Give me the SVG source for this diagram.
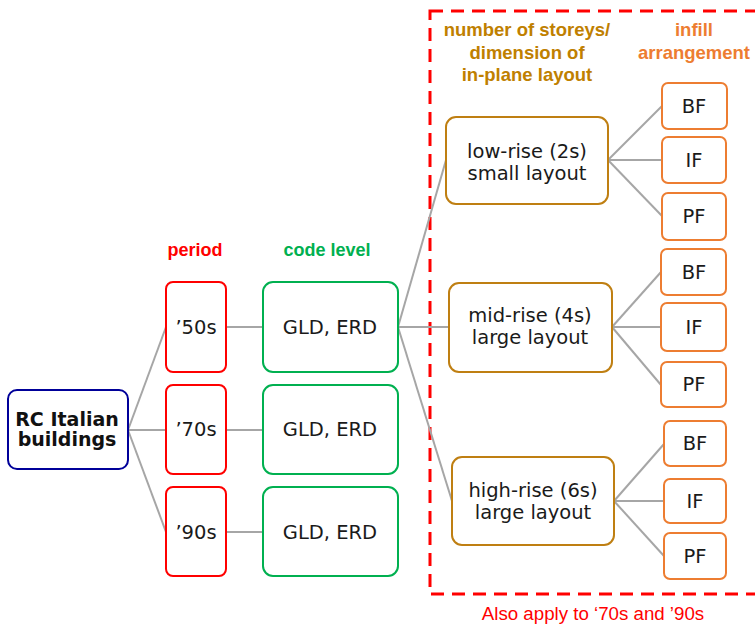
<svg xmlns="http://www.w3.org/2000/svg" width="755" height="624" viewBox="0 0 755 624">
<style>
text{font-family:"DejaVu Sans",Verdana,sans-serif;text-anchor:middle}
.lbl{font-size:19.5px;fill:#1a1a1a}
.hdr{font-family:"Liberation Sans",Arial,sans-serif;font-size:18.5px;font-weight:bold}
.box{fill:#fff;stroke-width:2}
.root{stroke:#000099}
.per{stroke:#ff0000}
.code{stroke:#00b050}
.sto{stroke:#bf7f12}
.inf{stroke:#ed7d31}
#connectors line{stroke:#a6a6a6;stroke-width:2}
</style>
<rect width="755" height="624" fill="#fff"/>
<rect x="430" y="11" width="335" height="583" fill="none" stroke="#ff0000" stroke-width="3" stroke-dasharray="13 8"/>
<g id="connectors">
<line x1="128" y1="430" x2="166" y2="327"/>
<line x1="128" y1="430" x2="166" y2="430"/>
<line x1="128" y1="430" x2="166" y2="532"/>
<line x1="226" y1="327" x2="263" y2="327"/>
<line x1="226" y1="430" x2="263" y2="430"/>
<line x1="226" y1="532" x2="263" y2="532"/>
<line x1="398" y1="327" x2="446" y2="160"/>
<line x1="398" y1="327" x2="449" y2="327"/>
<line x1="398" y1="327" x2="452" y2="501"/>
<line x1="608" y1="160" x2="662" y2="106"/>
<line x1="608" y1="160" x2="662" y2="160"/>
<line x1="608" y1="160" x2="662" y2="216"/>
<line x1="612" y1="327" x2="661" y2="272"/>
<line x1="612" y1="327" x2="661" y2="327"/>
<line x1="612" y1="327" x2="661" y2="385"/>
<line x1="614" y1="501" x2="664" y2="444"/>
<line x1="614" y1="501" x2="664" y2="501"/>
<line x1="614" y1="501" x2="664" y2="556"/>
</g>
<text class="hdr" x="195" y="256" fill="#ff0000" style="font-size:18px">period</text>
<text class="hdr" x="327" y="256" fill="#00b050" style="font-size:18px">code level</text>
<text class="hdr" x="527" y="36" fill="#bf8000">number of storeys/</text>
<text class="hdr" x="527" y="59" fill="#bf8000">dimension of</text>
<text class="hdr" x="527" y="81" fill="#bf8000">in-plane layout</text>
<text class="hdr" x="694" y="36" fill="#ed7d31">infill</text>
<text class="hdr" x="694" y="59" fill="#ed7d31">arrangement</text>
<text x="593" y="620" fill="#ff0000" style="font-family:'Liberation Sans',Arial,sans-serif;font-size:18.7px">Also apply to ‘70s and ’90s</text>
<g id="root"><rect class="box root" x="8" y="390" width="120" height="79" rx="9"/><text x="67" y="426" style="font-size:19px;font-weight:bold" fill="#111">RC Italian</text><text x="67" y="446" style="font-size:19px;font-weight:bold" fill="#111">buildings</text></g>
<g id="p50"><rect class="box per" x="166" y="282" width="60" height="90" rx="7"/><text class="lbl" x="196" y="334">’50s</text></g>
<g id="p70"><rect class="box per" x="166" y="385" width="60" height="89" rx="7"/><text class="lbl" x="196" y="436">’70s</text></g>
<g id="p90"><rect class="box per" x="166" y="487" width="60" height="89" rx="7"/><text class="lbl" x="196" y="539">’90s</text></g>
<g id="c50"><rect class="box code" x="263" y="282" width="135" height="90" rx="10"/><text class="lbl" x="330" y="334">GLD, ERD</text></g>
<g id="c70"><rect class="box code" x="263" y="385" width="135" height="89" rx="10"/><text class="lbl" x="330" y="436">GLD, ERD</text></g>
<g id="c90"><rect class="box code" x="263" y="487" width="135" height="89" rx="10"/><text class="lbl" x="330" y="539">GLD, ERD</text></g>
<g id="low"><rect class="box sto" x="446" y="117" width="162" height="87" rx="10"/><text class="lbl" x="527" y="158">low-rise (2s)</text><text class="lbl" x="527" y="180">small layout</text></g>
<g id="mid"><rect class="box sto" x="449" y="283" width="163" height="89" rx="10"/><text class="lbl" x="530" y="322">mid-rise (4s)</text><text class="lbl" x="530" y="344">large layout</text></g>
<g id="high"><rect class="box sto" x="452" y="457" width="162" height="88" rx="10"/><text class="lbl" x="533" y="497">high-rise (6s)</text><text class="lbl" x="533" y="519">large layout</text></g>
<g id="bf1"><rect class="box inf" x="662" y="83" width="65" height="46" rx="6"/><text class="lbl" x="694" y="113">BF</text></g>
<g id="if1"><rect class="box inf" x="662" y="137" width="64" height="46" rx="6"/><text class="lbl" x="694" y="167">IF</text></g>
<g id="pf1"><rect class="box inf" x="662" y="193" width="64" height="47" rx="6"/><text class="lbl" x="694" y="223">PF</text></g>
<g id="bf2"><rect class="box inf" x="661" y="249" width="65" height="46" rx="6"/><text class="lbl" x="694" y="279">BF</text></g>
<g id="if2"><rect class="box inf" x="661" y="303" width="65" height="48" rx="6"/><text class="lbl" x="694" y="334">IF</text></g>
<g id="pf2"><rect class="box inf" x="661" y="362" width="65" height="45" rx="6"/><text class="lbl" x="694" y="391">PF</text></g>
<g id="bf3"><rect class="box inf" x="664" y="421" width="62" height="45" rx="6"/><text class="lbl" x="695" y="450">BF</text></g>
<g id="if3"><rect class="box inf" x="664" y="479" width="62" height="44" rx="6"/><text class="lbl" x="695" y="508">IF</text></g>
<g id="pf3"><rect class="box inf" x="664" y="533" width="62" height="46" rx="6"/><text class="lbl" x="695" y="563">PF</text></g>
</svg>
